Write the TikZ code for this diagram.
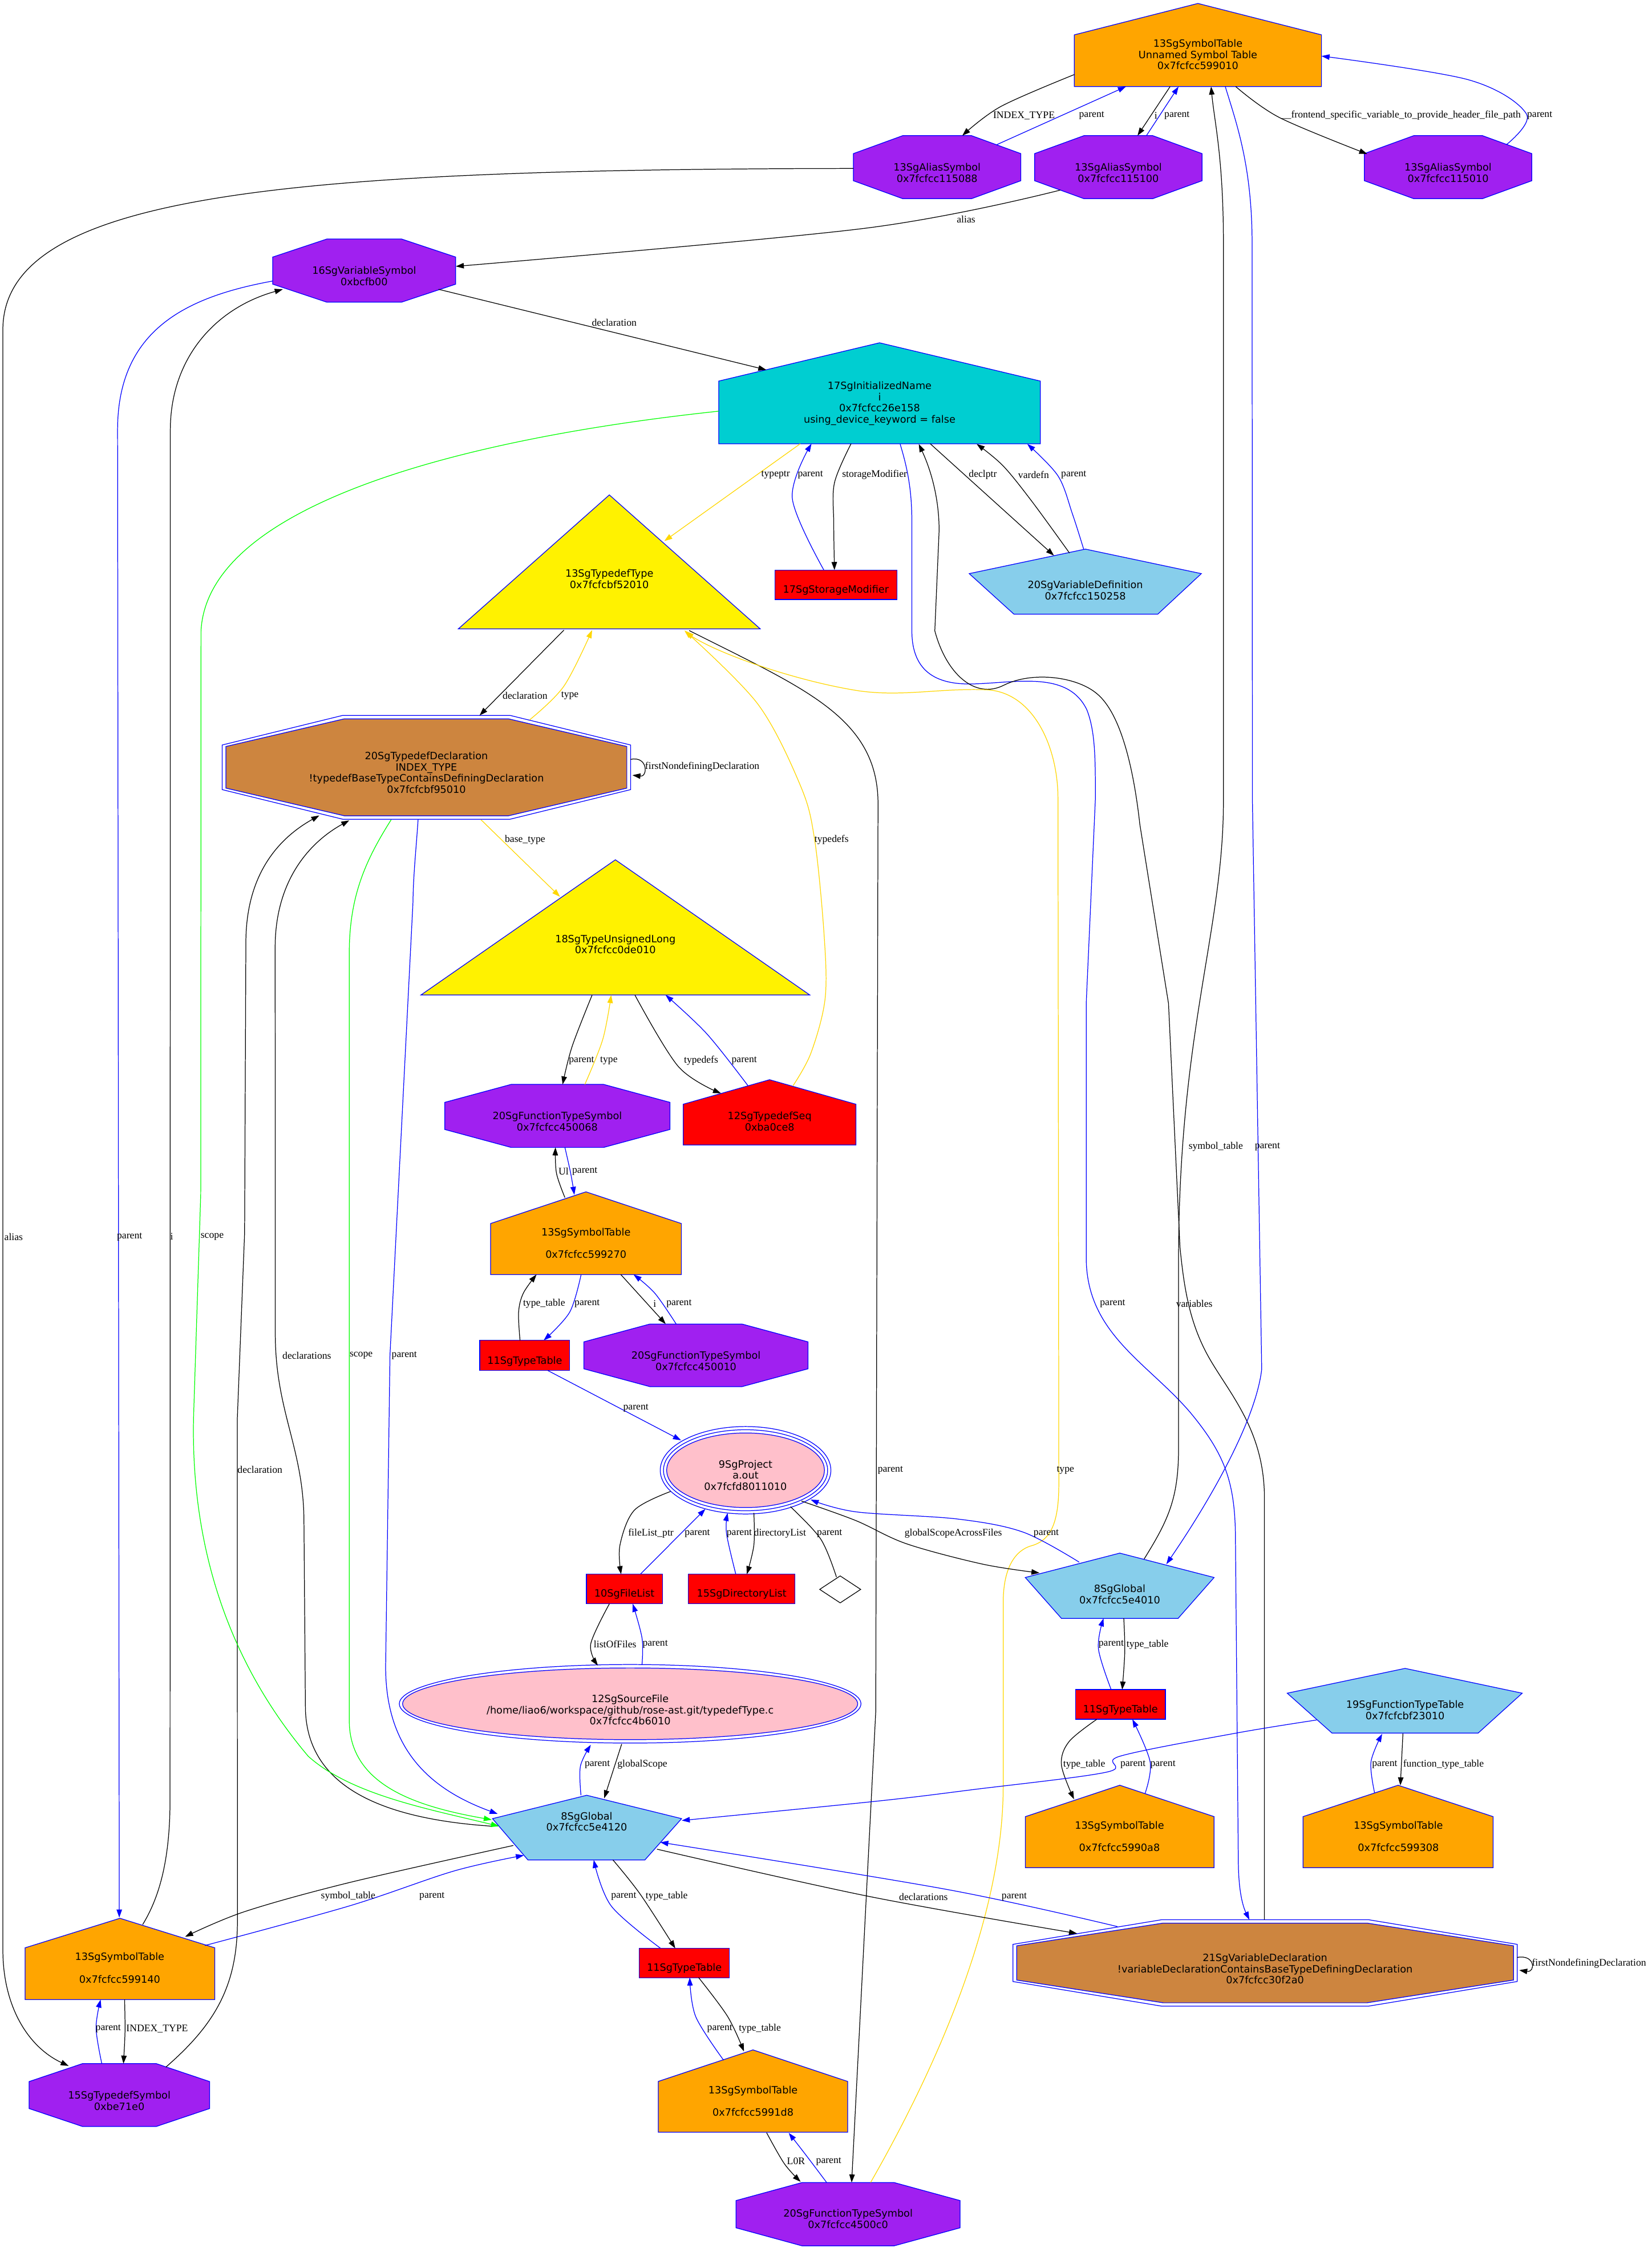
\documentclass[tikz,border=0pt]{standalone}
\usepackage{fontspec}
\setmainfont{Liberation Serif}
\newfontfamily\nodefont{DejaVu Sans}
\usetikzlibrary{arrows.meta,calc,shapes.geometric}
\definecolor{gvorange}{HTML}{FFA500}
\definecolor{gvcyan}{HTML}{00CED1}
\definecolor{gvpurple}{HTML}{A020F0}
\definecolor{gvsky}{HTML}{87CEEB}
\definecolor{gvpink}{HTML}{FFC0CB}
\definecolor{gvperu}{HTML}{CD853F}
\definecolor{gvgold}{HTML}{FFD700}
\definecolor{gvgreen}{HTML}{00FF00}
\tikzset{
  shp/.style={draw=blue,line width=0.7pt},
  nlab/.style={font=\nodefont\fontsize{10}{11.1}\selectfont,align=center,inner sep=0pt},
  elab/.style={font=\fontsize{10}{12}\selectfont,inner sep=0pt},
  conn/.style={line width=0.7pt,-{Triangle[length=2.8mm,width=1.9mm]}},
  eblk/.style={conn,draw=black},
  eblu/.style={conn,draw=blue},
  eyel/.style={conn,draw=gvgold},
  egrn/.style={conn,draw=gvgreen},
}
% house: left, right, apex y, shoulder y, bottom y, fill
\newcommand\houseshape[6]{\filldraw[shp,fill=#6] (#1,#5) -- (#2,#5) -- (#2,#4) -- ({(#1+#2)/2},#3) -- (#1,#4) -- cycle;}
% octagon: centre x, centre y, half width, half height, fill
\newcommand\octshape[5]{\filldraw[shp,fill=#5] ({#1-#3},{#2-0.43*#4}) -- ({#1-#3},{#2+0.43*#4}) -- ({#1-0.41*#3},{#2+#4}) -- ({#1+0.41*#3},{#2+#4}) -- ({#1+#3},{#2+0.43*#4}) -- ({#1+#3},{#2-0.43*#4}) -- ({#1+0.41*#3},{#2-#4}) -- ({#1-0.41*#3},{#2-#4}) -- cycle;}
\begin{document}
\begin{tikzpicture}[x=0.5mm,y=-0.5mm,every plot/.style={smooth,tension=0.55}]
\fill[white] (0,0) rectangle (1152,1568);
\useasboundingbox (0,0) rectangle (1152,1568);

% ---------- node outlines ----------
\houseshape{749.3}{921.7}{2.4}{24.3}{60.4}{gvorange}
\octshape{653.6}{116.6}{58.4}{22}{gvpurple}
\octshape{780}{116.6}{58.4}{22}{gvpurple}
\octshape{1010}{116.6}{58.4}{22}{gvpurple}
\octshape{254}{188.75}{63.8}{22}{gvpurple}
\houseshape{501.3}{725.6}{239.1}{265.8}{309.5}{gvcyan}
\filldraw[shp,fill=yellow] (425,345.2) -- (530.2,438.6) -- (319.7,438.6) -- cycle;
\filldraw[shp,fill=red] (540.6,397.6) rectangle (625.6,418.2);
\filldraw[shp,fill=gvsky] (757,383) -- (837.9,400.1) -- (807.5,428.4) -- (707.2,428.4) -- (676,400.1) -- cycle;
\octshape{297.4}{535.2}{142.4}{36.2}{white}
\octshape{297.4}{535.2}{139.8}{33.8}{gvperu}
\filldraw[shp,fill=yellow] (429.2,599.7) -- (564.8,694) -- (293.6,694) -- cycle;
\octshape{388.75}{778.35}{78.55}{22}{gvpurple}
\houseshape{476.5}{597}{753.1}{770.2}{798.6}{red}
\houseshape{342.2}{475.2}{831.3}{853.4}{889}{gvorange}
\filldraw[shp,fill=red] (334.6,934.9) rectangle (397.3,955.8);
\octshape{485.4}{945.35}{78.2}{21.85}{gvpurple}
\filldraw[shp,fill=white] (520,1025.5) ellipse (59.5 and 30.5);
\draw[shp] (520,1025.5) ellipse (57.25 and 28.25);
\filldraw[shp,fill=gvpink] (520,1025.5) ellipse (55 and 26);
\filldraw[shp,fill=red] (409,1098) rectangle (462,1118.7);
\filldraw[shp,fill=red] (480,1098) rectangle (554.5,1118.7);
\filldraw[shp,fill=white] (439.5,1188.4) ellipse (161 and 27.4);
\filldraw[shp,fill=gvpink] (439.5,1188.4) ellipse (158.7 and 25);
\filldraw[shp,fill=gvsky] (781,1083.3) -- (846.8,1100.3) -- (821.7,1128.8) -- (740.3,1128.8) -- (715.1,1100.3) -- cycle;
\filldraw[shp,fill=red] (750.2,1178.5) rectangle (812.8,1199.2);
\filldraw[shp,fill=gvsky] (980,1163.7) -- (1061.7,1181) -- (1031,1208.8) -- (929,1208.8) -- (897.8,1181) -- cycle;
\houseshape{715.2}{846.8}{1245.2}{1267.1}{1302.7}{gvorange}
\houseshape{908.8}{1041.4}{1245.2}{1267.1}{1302.7}{gvorange}
\filldraw[shp,fill=gvsky] (409.2,1252.2) -- (475.4,1268.5) -- (449.8,1297.3) -- (368.2,1297.3) -- (343.5,1268.5) -- cycle;
\houseshape{17.5}{149.8}{1338}{1358.6}{1394.7}{gvorange}
\filldraw[shp,fill=red] (445.9,1358.9) rectangle (508.8,1379.7);
\octshape{882.35}{1369.15}{175.85}{30.15}{white}
\octshape{882.35}{1369.15}{173.3}{27.8}{gvperu}
\octshape{83.25}{1461.3}{62.95}{21.9}{gvpurple}
\houseshape{459.1}{591.2}{1429.8}{1451.8}{1487.2}{gvorange}
\octshape{591.5}{1544.4}{78.15}{22.1}{gvpurple}

% ---------- node labels ----------
\node[nlab] (st1) at (835.5,38.1) {13SgSymbolTable\\Unnamed Symbol Table\\0x7fcfcc599010};
\node[nlab] (a1) at (653.6,120.5) {13SgAliasSymbol\\0x7fcfcc115088};
\node[nlab] (a2) at (780,120.5) {13SgAliasSymbol\\0x7fcfcc115100};
\node[nlab] (a3) at (1010,120.5) {13SgAliasSymbol\\0x7fcfcc115010};
\node[nlab] (var) at (254,192.5) {16SgVariableSymbol\\0xbcfb00};
\node[nlab] (iname) at (613.5,281.5) {17SgInitializedName\\i\\0x7fcfcc26e158\\using\_device\_keyword = false};
\node[nlab] (tt) at (425,403.7) {13SgTypedefType\\0x7fcfcbf52010};
\node[nlab] (sm) at (583,411.5) {17SgStorageModifier};
\node[nlab] (vd) at (757,411.7) {20SgVariableDefinition\\0x7fcfcc150258};
\node[nlab] (td) at (297.4,538.9) {20SgTypedefDeclaration\\INDEX\_TYPE\\!typedefBaseTypeContainsDefiningDeclaration\\0x7fcfcbf95010};
\node[nlab] (tul) at (429.2,658.6) {18SgTypeUnsignedLong\\0x7fcfcc0de010};
\node[nlab] (fts1) at (388.7,782.1) {20SgFunctionTypeSymbol\\0x7fcfcc450068};
\node[nlab] (tds) at (536.8,782.1) {12SgTypedefSeq\\0xba0ce8};
\node[nlab] (st2) at (408.7,867) {13SgSymbolTable\\[11.1pt]0x7fcfcc599270};
\node[nlab] (tt2) at (366,949.4) {11SgTypeTable};
\node[nlab] (fts2) at (485.4,949.3) {20SgFunctionTypeSymbol\\0x7fcfcc450010};
\node[nlab] (proj) at (520,1029) {9SgProject\\a.out\\0x7fcfd8011010};
\node[nlab] (fl) at (435.5,1112) {10SgFileList};
\node[nlab] (dl) at (517.3,1112) {15SgDirectoryList};
\node[diamond,draw=black,fill=white,line width=0.7pt,inner sep=0pt,minimum width=14.4mm,minimum height=9.5mm] (dia) at (586,1108.6) {};
\node[nlab] (sf) at (439.5,1192.6) {12SgSourceFile\\/home/liao6/workspace/github/rose-ast.git/typedefType.c\\0x7fcfcc4b6010};
\node[nlab] (g2) at (781,1112) {8SgGlobal\\0x7fcfcc5e4010};
\node[nlab] (tt3) at (781.5,1192.7) {11SgTypeTable};
\node[nlab] (ftt) at (980,1192.7) {19SgFunctionTypeTable\\0x7fcfcbf23010};
\node[nlab] (st4) at (780.8,1280.8) {13SgSymbolTable\\[11.1pt]0x7fcfcc5990a8};
\node[nlab] (st5) at (975.3,1280.8) {13SgSymbolTable\\[11.1pt]0x7fcfcc599308};
\node[nlab] (g1) at (409.2,1270.5) {8SgGlobal\\0x7fcfcc5e4120};
\node[nlab] (st3) at (83.5,1372.6) {13SgSymbolTable\\[11.1pt]0x7fcfcc599140};
\node[nlab] (tt4) at (477.3,1373) {11SgTypeTable};
\node[nlab] (vdecl) at (882.3,1373.2) {21SgVariableDeclaration\\!variableDeclarationContainsBaseTypeDefiningDeclaration\\0x7fcfcc30f2a0};
\node[nlab] (tdsym) at (83.2,1465.4) {15SgTypedefSymbol\\0xbe71e0};
\node[nlab] (st6) at (525.2,1465.4) {13SgSymbolTable\\[11.1pt]0x7fcfcc5991d8};
\node[nlab] (fts3) at (591.5,1547.6) {20SgFunctionTypeSymbol\\0x7fcfcc4500c0};

% ---------- connectors ----------
\draw[eblk] plot coordinates {($(st1)+(-86.2,13.9)$) (698,74.3) ($(a1)+(17.6,-25.9)$)};
\draw[eblu] ($(a1)+(41.4,-19.5)$) -- ($(st1)+(-50.2,22.3)$);
\draw[eblk] ($(st1)+(-19.4,22.3)$) -- ($(a2)+(13.4,-25.9)$);
\draw[eblu] ($(a2)+(19.6,-25.9)$) -- ($(st1)+(-13.5,22.3)$);
\draw[eblk] plot coordinates {($(st1)+(26.4,22.3)$) (892.4,82) ($(a3)+(-56.4,-13.1)$)};
\draw[eblu] plot coordinates {($(a3)+(40.8,-19.7)$) (1064.7,79.6) (1024.4,55.7) ($(st1)+(86.2,1)$)};
\draw[eblk] plot coordinates {($(a2)+(-40.5,12.1)$) (603.5,159.2) ($(var)+(63.9,-6.7)$)};
\draw[eblk] ($(a1)+(-58.3,-3)$) .. controls (200,118) and (2,135) .. (2,230) -- (2,1360) .. controls (2,1400) and (20,1428) .. ($(tdsym)+(-35.3,-24.4)$);
\draw[eblk] ($(var)+(51.9,9.3)$) -- ($(iname)+(-79,-23.5)$);
\draw[eblu] ($(var)+(-63.7,3.5)$) .. controls (130,207) and (82,230) .. (82,300) -- ($(st3)+(-0.3,-35.1)$);
\draw[eblk] ($(st3)+(16,-30.2)$) .. controls (112,1322) and (118.6,1295) .. (118.6,1255) -- (118.8,300) .. controls (118.8,250) and (150,215) .. ($(var)+(-56.8,9.3)$);
\draw[eyel] ($(iname)+(-55.3,28)$) -- ($(tt)+(38.3,-26.3)$);
\draw[eblu] plot coordinates {($(sm)+(-8.4,-13.9)$) (552.6,347.5) ($(iname)+(-47.5,28)$)};
\draw[eblk] plot coordinates {($(iname)+(-19.9,28)$) (582,336.8) (581.5,365) ($(sm)+(-1,-13.9)$)};
\draw[eblk] ($(iname)+(35.3,28)$) -- ($(vd)+(-21.9,-24.2)$);
\draw[eblk] plot coordinates {($(vd)+(-11.1,-26)$) (719.7,349.7) (699.5,324.8) ($(iname)+(67.7,28.2)$)};
\draw[eblu] plot coordinates {($(vd)+(-1.2,-28.7)$) (748,358.5) (737.9,331.9) ($(iname)+(103,28.2)$)};
\draw[eblu] ($(iname)+(14.3,28.2)$) .. controls (634,330) and (636,345) .. (636,365) -- (636,440) .. controls (636,470) and (655,478) .. (680,477) .. controls (710,476) and (745,468) .. (758,495) .. controls (764,510) and (764,530) .. (764,557) -- (757.6,700) -- (757.6,877) .. controls (757.6,930) and (800,950) .. (830,985) .. controls (855,1015) and (861.7,1035) .. (861.7,1075) -- (863.7,1300) .. controls (864,1320) and (867,1330) .. ($(vdecl)+(-10.9,-34.2)$);
\draw[eblk] ($(vdecl)+(-0.4,-34.2)$) -- (881.9,1045) .. controls (881.9,1000) and (860,975) .. (845,950) .. controls (830,925) and (826,900) .. (823,870) -- (815,700) -- (795,575) .. controls (790,530) and (780,495) .. (764,483) .. controls (750,472) and (720,468) .. (700,478) .. controls (680,488) and (660,470) .. (652,440) -- (655,370) .. controls (655,345) and (648,325) .. ($(iname)+(27.3,28.2)$);
\draw[eblk] ($(tt)+(-31.7,35.8)$) -- ($(td)+(37.1,-39.9)$);
\draw[eyel] plot coordinates {($(td)+(72.1,-36.9)$) (393.3,478.6) ($(tt)+(-12,35.8)$)};
\draw[eblk] ($(td)+(142.4,-9.2)$) .. controls (452,527) and (452,542) .. ($(td)+(143.7,1.8)$);
\draw[eyel] ($(td)+(38.1,32.9)$) -- ($(tul)+(-38.6,-33.1)$);
\draw[eyel] plot coordinates {($(tds)+(16.3,-24.8)$) (565.6,734.5) (575.5,696.4) (574.7,650.9) (568.1,585.2) (558.2,547.8) (528.5,491) ($(tt)+(52.4,36.1)$)};
\draw[eblk] ($(tt)+(55.7,36.1)$) .. controls (560,480) and (612,500) .. (612.4,560) -- (610.8,1194) -- ($(fts3)+(2.5,-25.3)$);
\draw[eyel] ($(fts3)+(15.7,-25.3)$) .. controls (660,1430) and (699.7,1330) .. (699.7,1246) -- (699.7,1118) .. controls (699.7,1088) and (712,1080) .. (720,1078) .. controls (733,1074) and (738.5,1062) .. (738.5,1035) -- (737.9,557) .. controls (737.9,520) and (720,482) .. (687.3,481.1) .. controls (655,480) and (630,486) .. (600,482) .. controls (560,476) and (505,458) .. ($(tt)+(53,37.3)$);
\draw[eblk] plot coordinates {($(tul)+(-16.2,35.4)$) (399,730) ($(fts1)+(3.7,-25.7)$)};
\draw[eyel] plot coordinates {($(fts1)+(19.2,-25.7)$) (420.4,725) ($(tul)+(-2.9,35.4)$)};
\draw[eblk] plot coordinates {($(tul)+(13.6,35.4)$) (473.2,744) ($(tds)+(-33.9,-19.5)$)};
\draw[eblu] plot coordinates {($(tds)+(-15.1,-24.8)$) (493,721.1) ($(tul)+(35,35.4)$)};
\draw[eblk] plot coordinates {($(st2)+(-14.7,-31.7)$) (388.1,818.2) ($(fts1)+(-1.3,18.2)$)};
\draw[eblu] plot coordinates {($(fts1)+(5.3,18.2)$) (398,818.2) ($(st2)+(-8.1,-33.6)$)};
\draw[eblk] plot coordinates {($(tt2)+(-3.3,-14.5)$) (361.7,915.3) (365,902) ($(st2)+(-34.5,22)$)};
\draw[eblu] plot coordinates {($(st2)+(-3.4,22)$) (397.3,915.3) ($(tt2)+(13.2,-14.5)$)};
\draw[eblk] ($(st2)+(24.3,22)$) -- ($(fts2)+(-21.1,-25.8)$);
\draw[eblu] plot coordinates {($(fts2)+(-13.8,-25.8)$) (456.7,902) ($(st2)+(33.2,22)$)};
\draw[eblu] ($(tt2)+(15.8,6.4)$) -- ($(proj)+(-45,-24.4)$);
\draw[eblk] plot coordinates {($(proj)+(-52.3,11.3)$) (442.5,1053.3) (432.4,1077.7) ($(fl)+(-2.3,-14)$)};
\draw[eblu] ($(fl)+(11.1,-14)$) -- ($(proj)+(-28,23.5)$);
\draw[eblu] plot coordinates {($(dl)+(-4.1,-14)$) (506.7,1069.5) ($(proj)+(-12.5,26.3)$)};
\draw[eblk] plot coordinates {($(proj)+(5.8,26.3)$) (525.8,1077.7) ($(dl)+(3.6,-14)$)};
\draw[line width=0.7pt] plot coordinates {($(proj)+(31.3,21.9)$) (572.5,1073.6) ($(dia)+(-2.6,-8.6)$)};
\draw[eblk] plot coordinates {($(proj)+(39,18)$) (596.9,1060.6) (632.3,1076.8) (685.4,1091) ($(g2)+(-56,-14.9)$)};
\draw[eblu] plot coordinates {($(g2)+(-28.3,-22.4)$) (713.7,1068.7) (667.7,1059.5) (596.9,1054.5) ($(proj)+(45.4,17)$)};
\draw[eblk] ($(g2)+(17,-24.6)$) .. controls (815,1060) and (822,1045) .. (822,1010) -- (822,880) .. controls (822,720) and (853,650) .. (853.3,560) -- (853.3,170) .. controls (853.3,110) and (847,85) .. ($(st1)+(9.2,22.3)$);
\draw[eblu] ($(st1)+(19.1,22.3)$) .. controls (862,85) and (873.3,115) .. (873.3,170) -- (873.5,557) -- (880,955) .. controls (876,990) and (845,1045) .. ($(g2)+(32.5,-21)$);
\draw[eblk] plot coordinates {($(g2)+(2.8,16.8)$) (784.5,1152) ($(tt3)+(1.2,-14.2)$)};
\draw[eblu] plot coordinates {($(tt3)+(-6.5,-14.2)$) (766.1,1149.9) ($(g2)+(-11.3,16.8)$)};
\draw[eblk] plot coordinates {($(tt3)+(-16.5,6.5)$) (745.6,1214.8) (740.3,1231) ($(st4)+(-31.7,-25.8)$)};
\draw[eblu] plot coordinates {($(st4)+(17.9,-30)$) (802.2,1229) ($(tt3)+(8.3,6.5)$)};
\draw[eblk] ($(ftt)+(-1.5,16.5)$) -- ($(st5)+(1.4,-35.5)$);
\draw[eblu] plot coordinates {($(st5)+(-16.6,-30.4)$) (956.2,1229) ($(ftt)+(-16,16.7)$)};
\draw[eblu] plot coordinates {($(ftt)+(-61.7,7)$) (862.4,1208.8) (781,1225) (772.1,1236) (678.3,1248.3) (610.8,1256.4) ($(g1)+(66.3,-0.7)$)};
\draw[eblk] ($(sf)+(-5.9,23.9)$) -- ($(g1)+(12.2,-16.2)$);
\draw[eblu] plot coordinates {($(g1)+(-4,-18.3)$) (404.8,1232) ($(sf)+(-27.4,24.4)$)};
\draw[eblk] plot coordinates {($(fl)+(-10.5,6.7)$) (412,1146.7) ($(sf)+(-22.5,-30.9)$)};
\draw[eblu] plot coordinates {($(sf)+(8.3,-31.7)$) (447.8,1142.6) ($(fl)+(5.8,6.7)$)};
\draw[eblk] plot coordinates {($(g1)+(-51.1,16.7)$) (243.6,1313.1) (170.5,1333.4) ($(st3)+(45.6,-21.7)$)};
\draw[eblu] plot coordinates {($(st3)+(59.4,-15.6)$) (243.6,1329.4) (316.7,1305) ($(g1)+(-43.8,23.6)$)};
\draw[eblk] plot coordinates {($(g1)+(18.3,26.8)$) (446.6,1321.3) ($(tt4)+(-6.3,-14)$)};
\draw[eblu] plot coordinates {($(tt4)+(-16.5,-14)$) (426.3,1329.4) ($(g1)+(4.9,26.8)$)};
\draw[eblk] plot coordinates {($(tt4)+(9.9,6.3)$) (507.5,1406.5) ($(st6)+(-6.3,-34.5)$)};
\draw[eblu] plot coordinates {($(st6)+(-20.5,-28.4)$) (485.2,1406.5) ($(tt4)+(3.8,6.3)$)};
\draw[eblk] plot coordinates {($(st6)+(9.5,22.2)$) (547,1509.1) ($(fts3)+(-33.1,-25.8)$)};
\draw[eblu] plot coordinates {($(fts3)+(-15,-25.4)$) (562,1503) ($(st6)+(24.9,22.3)$)};
\draw[eblk] plot coordinates {($(g1)+(49,19.3)$) (606.3,1322.8) ($(vdecl)+(-131.1,-24.6)$)};
\draw[eblu] plot coordinates {($(vdecl)+(-102.9,-29.4)$) (661,1318) ($(g1)+(51.3,14.5)$)};
\draw[eblk] ($(vdecl)+(175.9,-7.9)$) .. controls (1071,1363) and (1071,1376) .. ($(vdecl)+(177.3,1)$);
\draw[eblk] plot coordinates {($(st3)+(3.4,22.1)$) (87.2,1417) ($(tdsym)+(2.9,-26)$)};
\draw[eblu] plot coordinates {($(tdsym)+(-12.2,-26)$) (67,1414.6) ($(st3)+(-13.3,22.1)$)};
\draw[eblk] ($(tdsym)+(32.5,-23.6)$) .. controls (150,1412) and (165.6,1385) .. (165.6,1340) -- (165.5,990) -- (170.6,860) -- (171.5,656) .. controls (172,612) and (192,586) .. ($(td)+(-74.7,29.9)$);
\draw[eblk] ($(g1)+(-65.7,3.3)$) .. controls (255,1268) and (213,1240) .. (213,1190) -- (212,1062) .. controls (212,1010) and (192,985) .. (192,930) -- (191.9,661) .. controls (191.9,615) and (215,588) .. ($(td)+(-53.8,33.3)$);
\draw[egrn] ($(td)+(-24.6,32.9)$) .. controls (255,600) and (243.6,625) .. (243.6,665) -- (243.6,1200) .. controls (243.6,1245) and (290,1260) .. ($(g1)+(-66.2,-1.2)$);
\draw[eblu] ($(td)+(-5.8,32.9)$) .. controls (290,595) and (288.3,610) .. (288,630) -- (272,945) -- (269,1160) .. controls (268,1220) and (300,1248) .. ($(g1)+(-62.1,-5.3)$);
\draw[egrn] ($(iname)+(-112.2,5.3)$) .. controls (330,305) and (145,350) .. (140.2,440) -- (140,833) -- (135,988.7) .. controls (133,1080) and (160,1160) .. (215,1225) .. controls (245,1252) and (300,1262) .. ($(g1)+(-61.2,3.3)$);

% ---------- connector labels ----------
\node[elab] (l01) at (714.2,80.6) {INDEX\_TYPE};
\node[elab] (l02) at (761.4,80.6) {parent};
\node[elab] (l03) at (806.2,80.6) {i};
\node[elab] (l04) at (820.9,80.6) {parent};
\node[elab] (l05) at (977.1,80.6) {\_\_frontend\_specific\_variable\_to\_provide\_header\_file\_path};
\node[elab] (l06) at (1073.9,80.6) {parent};
\node[elab] (l07) at (673.8,152.8) {alias};
\node[elab] (l08) at (428.4,224.9) {declaration};
\node[elab] (l09) at (541,331.2) {typeptr};
\node[elab] (l10) at (565.2,331.2) {parent};
\node[elab] (l11) at (610,331.2) {storageModifier};
\node[elab] (l12) at (685.5,331.2) {declptr};
\node[elab] (l13) at (720.9,331.2) {vardefn};
\node[elab] (l14) at (748.9,331.2) {parent};
\node[elab] (l15) at (366.2,485.1) {declaration};
\node[elab] (l16) at (397.5,485.1) {type};
\node[elab] (l17) at (489.8,535) {firstNondefiningDeclaration};
\node[elab] (l18) at (366.2,585.7) {base\_type};
\node[elab] (l19) at (580,585.7) {typedefs};
\node[elab] (l20) at (405.6,739.8) {parent};
\node[elab] (l21) at (424.7,739.8) {type};
\node[elab] (l22) at (489,739.8) {typedefs};
\node[elab] (l23) at (519.1,739.8) {parent};
\node[elab] (l24) at (393.1,816.9) {Ul};
\node[elab] (l25) at (407.9,816.9) {parent};
\node[elab] (l26) at (379.5,909.2) {type\_table};
\node[elab] (l27) at (409.5,909.2) {parent};
\node[elab] (l28) at (456.7,909.2) {i};
\node[elab] (l29) at (473.6,909.2) {parent};
\node[elab] (l30) at (443.5,981.9) {parent};
\node[elab] (l31) at (9.5,862.6) {alias};
\node[elab] (l32) at (90.4,862.6) {parent};
\node[elab] (l33) at (119.8,862.6) {i};
\node[elab] (l34) at (148,862.6) {scope};
\node[elab] (l35) at (214,945.5) {declarations};
\node[elab] (l36) at (251.9,945.5) {scope};
\node[elab] (l37) at (282,945.5) {parent};
\node[elab] (l38) at (181.3,1025) {declaration};
\node[elab] (l39) at (621,1025.4) {parent};
\node[elab] (l40) at (743.1,1025.4) {type};
\node[elab] (l41) at (776,909.2) {parent};
\node[elab] (l42) at (833,909.2) {variables};
\node[elab] (l43) at (848,800) {symbol\_table};
\node[elab] (l44) at (884,800) {parent};
\node[elab] (l45) at (454,1069.5) {fileList\_ptr};
\node[elab] (l46) at (486.4,1069.5) {parent};
\node[elab] (l47) at (515.6,1069.5) {parent};
\node[elab] (l48) at (544,1069.5) {directoryList};
\node[elab] (l49) at (578.6,1069.5) {parent};
\node[elab] (l50) at (664.9,1069.7) {globalScopeAcrossFiles};
\node[elab] (l51) at (729.7,1069.7) {parent};
\node[elab] (l52) at (775,1147) {parent};
\node[elab] (l53) at (800.4,1147) {type\_table};
\node[elab] (l54) at (429,1146.7) {listOfFiles};
\node[elab] (l55) at (457,1146.7) {parent};
\node[elab] (l56) at (756.2,1230.7) {type\_table};
\node[elab] (l57) at (790.2,1230.7) {parent};
\node[elab] (l58) at (811.1,1230.7) {parent};
\node[elab] (l59) at (965.8,1230.7) {parent};
\node[elab] (l60) at (1006.8,1230.7) {function\_type\_table};
\node[elab] (l61) at (416.6,1230.7) {parent};
\node[elab] (l62) at (448,1230.7) {globalScope};
\node[elab] (l63) at (242.8,1322.5) {symbol\_table};
\node[elab] (l64) at (301.3,1322.5) {parent};
\node[elab] (l65) at (435,1322.5) {parent};
\node[elab] (l66) at (465,1322.5) {type\_table};
\node[elab] (l67) at (644.1,1323) {declarations};
\node[elab] (l68) at (707.4,1323) {parent};
\node[elab] (l69) at (1108.3,1369.4) {firstNondefiningDeclaration};
\node[elab] (l70) at (75.5,1415) {parent};
\node[elab] (l71) at (109.6,1415) {INDEX\_TYPE};
\node[elab] (l72) at (502,1415) {parent};
\node[elab] (l73) at (530,1415) {type\_table};
\node[elab] (l74) at (555.2,1507.5) {L0R};
\node[elab] (l75) at (578,1507.5) {parent};
\end{tikzpicture}
\end{document}
